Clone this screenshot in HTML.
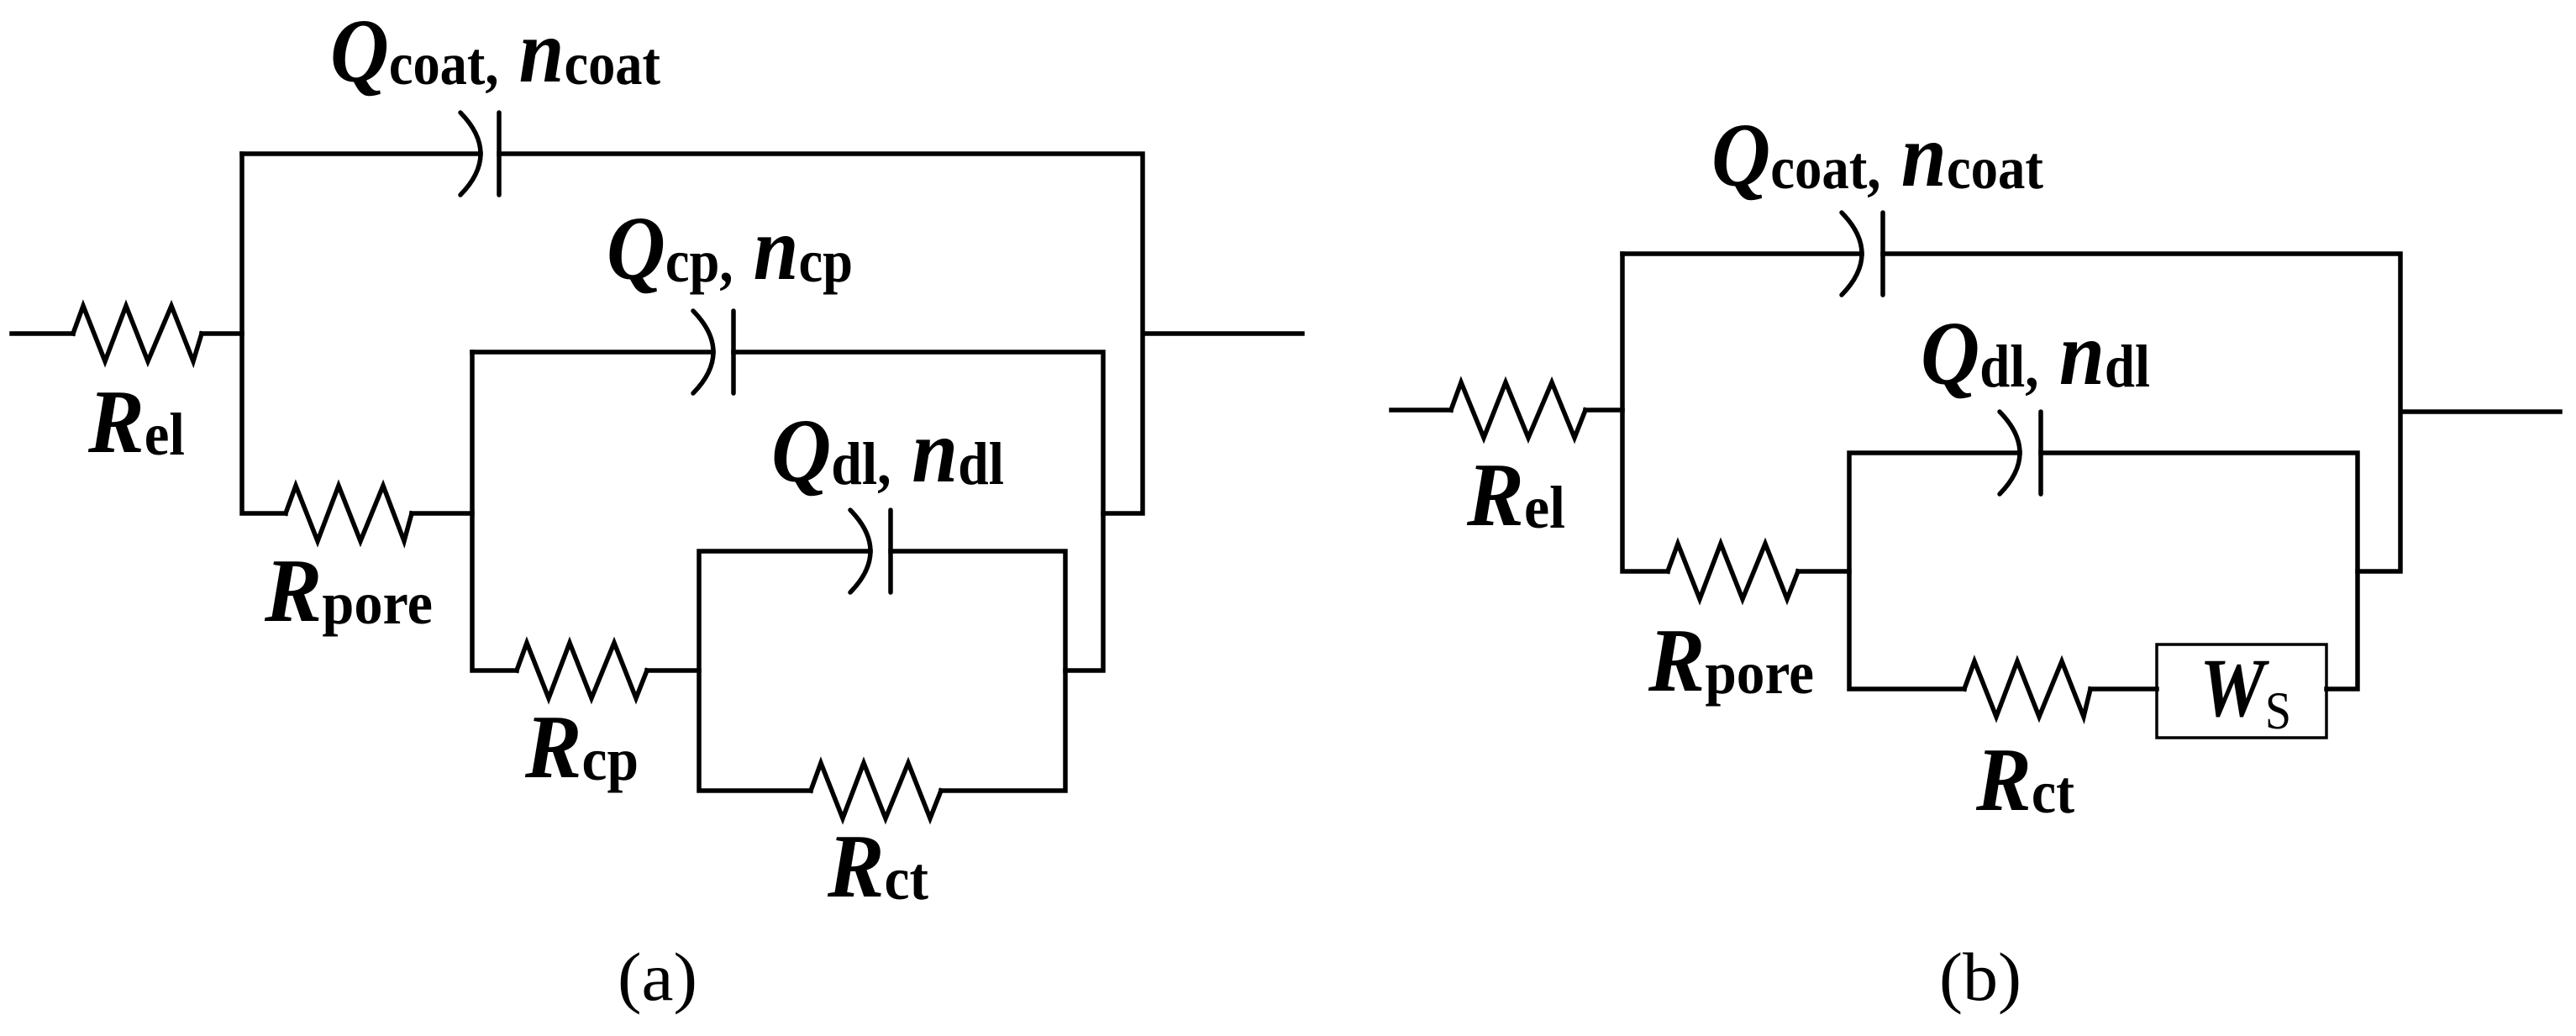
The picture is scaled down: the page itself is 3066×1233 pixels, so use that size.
<!DOCTYPE html>
<html><head><meta charset="utf-8"><style>
html,body{margin:0;padding:0;background:#fff;}
svg{display:block;}
svg text, svg tspan{font-family:"Times New Roman","Times","Liberation Serif","DejaVu Serif",serif;fill:#000;}
.m{font-weight:bold;font-style:italic;}
.s{font-weight:bold;font-style:normal;}
</style></head><body>
<svg width="3066" height="1233" viewBox="0 0 3066 1233" xmlns="http://www.w3.org/2000/svg">
<g fill="none" stroke="#000" stroke-width="5.5" stroke-linejoin="miter" stroke-linecap="square">
<path d="M14,397 H87 M240,397 H288"/>
<path d="M87,397 L99,364 L125,430 L150,364 L176,430 L204,364 L230,430 L240,397"/>
<path d="M288,183 V611 H340 M490,611 H562"/>
<path d="M340,611 L352,578 L378,644 L403,578 L429,644 L456,578 L481,644 L490,611"/>
<path d="M288,183 H572 M594,183 H1360 V611 H1313 M1360,397 H1550"/>
<path d="M562,419 V798 H615 M770,798 H832"/>
<path d="M615,798 L627,765 L653,831 L678,765 L704,831 L731,765 L757,831 L770,798"/>
<path d="M562,419 H849 M873,419 H1313 V798 H1268"/>
<path d="M1036,656 H832 V941 H965 M1120,941 H1268 V656 H1060"/>
<path d="M965,941 L977,908 L1003,974 L1028,908 L1054,974 L1081,908 L1107,974 L1120,941"/>
<path stroke-linecap="round" d="M548,134 Q596,183 548,232 M594,134 V232"/>
<path stroke-linecap="round" d="M825,370 Q873,419 825,468 M873,370 V468"/>
<path stroke-linecap="round" d="M1012,607 Q1060,656 1012,705 M1060,607 V705"/>
<path d="M1656,488 H1727 M1887,488 H1931"/>
<path d="M1727,488 L1739,455 L1766,521 L1792,455 L1819,521 L1847,455 L1874,521 L1887,488"/>
<path d="M1931,302 V680 H1985 M2140,680 H2201"/>
<path d="M1985,680 L1997,647 L2023,713 L2048,647 L2074,713 L2101,647 L2127,713 L2140,680"/>
<path d="M1931,302 H2216 M2241,302 H2857 V680 H2806 M2857,490 H3047"/>
<path d="M2201,539 H2404 M2429,539 H2806 V820 H2769 M2201,539 V820 H2338 M2488,820 H2567"/>
<path d="M2338,820 L2350,787 L2376,853 L2401,787 L2427,853 L2454,787 L2480,853 L2488,820"/>
<path stroke-linecap="round" d="M2192,253 Q2240,302 2192,351 M2241,253 V351"/>
<path stroke-linecap="round" d="M2380,490 Q2428,539 2380,588 M2429,490 V588"/>
</g>
<rect x="2567" y="767" width="202" height="111" fill="none" stroke="#000" stroke-width="3.5"/>
<g>
<text x="393" y="97" textLength="393" lengthAdjust="spacingAndGlyphs"><tspan class="m" font-size="108">Q</tspan><tspan class="s" font-size="72" dy="3">coat,</tspan><tspan class="m" font-size="108" dy="-3"> n</tspan><tspan class="s" font-size="72" dy="3">coat</tspan></text>
<text x="722" y="332" textLength="293" lengthAdjust="spacingAndGlyphs"><tspan class="m" font-size="108">Q</tspan><tspan class="s" font-size="72" dy="3">cp,</tspan><tspan class="m" font-size="108" dy="-3"> n</tspan><tspan class="s" font-size="72" dy="3">cp</tspan></text>
<text x="918" y="573" textLength="277" lengthAdjust="spacingAndGlyphs"><tspan class="m" font-size="108">Q</tspan><tspan class="s" font-size="72" dy="3">dl,</tspan><tspan class="m" font-size="108" dy="-3"> n</tspan><tspan class="s" font-size="72" dy="3">dl</tspan></text>
<text x="105" y="538" textLength="115" lengthAdjust="spacingAndGlyphs"><tspan class="m" font-size="108">R</tspan><tspan class="s" font-size="72" dy="3">el</tspan></text>
<text x="315" y="739" textLength="200" lengthAdjust="spacingAndGlyphs"><tspan class="m" font-size="108">R</tspan><tspan class="s" font-size="72" dy="3">pore</tspan></text>
<text x="625" y="925" textLength="135" lengthAdjust="spacingAndGlyphs"><tspan class="m" font-size="108">R</tspan><tspan class="s" font-size="72" dy="3">cp</tspan></text>
<text x="985" y="1067" textLength="120" lengthAdjust="spacingAndGlyphs"><tspan class="m" font-size="108">R</tspan><tspan class="s" font-size="72" dy="3">ct</tspan></text>
<text x="735" y="1190" font-size="82" textLength="95" lengthAdjust="spacingAndGlyphs">(a)</text>
<text x="2037" y="221" textLength="395" lengthAdjust="spacingAndGlyphs"><tspan class="m" font-size="108">Q</tspan><tspan class="s" font-size="72" dy="3">coat,</tspan><tspan class="m" font-size="108" dy="-3"> n</tspan><tspan class="s" font-size="72" dy="3">coat</tspan></text>
<text x="2286" y="457" textLength="273" lengthAdjust="spacingAndGlyphs"><tspan class="m" font-size="108">Q</tspan><tspan class="s" font-size="72" dy="3">dl,</tspan><tspan class="m" font-size="108" dy="-3"> n</tspan><tspan class="s" font-size="72" dy="3">dl</tspan></text>
<text x="1746" y="625" textLength="117" lengthAdjust="spacingAndGlyphs"><tspan class="m" font-size="108">R</tspan><tspan class="s" font-size="72" dy="3">el</tspan></text>
<text x="1962" y="822" textLength="197" lengthAdjust="spacingAndGlyphs"><tspan class="m" font-size="108">R</tspan><tspan class="s" font-size="72" dy="3">pore</tspan></text>
<text x="2352" y="964" textLength="117" lengthAdjust="spacingAndGlyphs"><tspan class="m" font-size="108">R</tspan><tspan class="s" font-size="72" dy="3">ct</tspan></text>
<text x="2618" y="852" textLength="109" lengthAdjust="spacingAndGlyphs"><tspan class="m" font-size="100">W</tspan><tspan font-size="64" dy="15">S</tspan></text>
<text x="2308" y="1190" font-size="82" textLength="98" lengthAdjust="spacingAndGlyphs">(b)</text>
</g>
</svg>
</body></html>
